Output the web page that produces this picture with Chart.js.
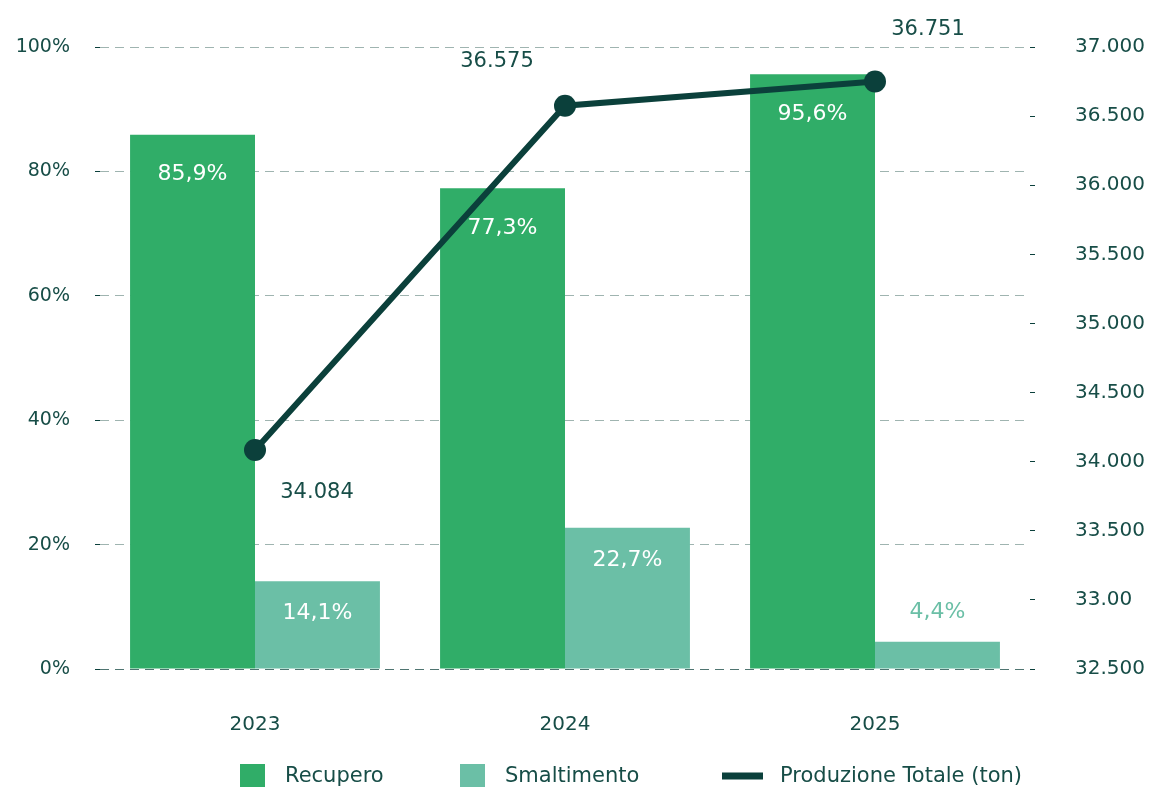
<!DOCTYPE html>
<html>
<head>
<meta charset="utf-8">
<script src="https://cdn.jsdelivr.net/npm/chart.js@4"></script>
<style>
html,body{margin:0;padding:0;background:#fff}
#wrap{width:1150px;height:787px;position:relative}
</style>
</head>
<body>
<div id="wrap"><canvas id="myChart"></canvas></div>
<script>
// DATA
const years = ['2023', '2024', '2025'];
const recupero = [85.9, 77.3, 95.6];
const smaltimento = [14.1, 22.7, 4.4];
const produzione = [34084, 36575, 36751];
const leftTicks = ['0%', '20%', '40%', '60%', '80%', '100%'];
const rightTicks = ['32.500', '33.00', '33.500', '34.000', '34.500', '35.000', '35.500', '36.000', '36.500', '37.000'];

// styles
const green = '#30ad68';
const teal = '#6bbfa6';
const darkTeal = '#0b403b';
const textCol = '#174d47';
const font = "'DejaVu Sans', sans-serif";
const lineLabelOffsets = [[62, 42], [-68, -44], [53, -52]];
const legendX = [240, 460, 722];

let fmtPct = (v) => v.toFixed(1).replace('.', ',') + '%';
let fmtNum = (v) => String(v).replace(/\B(?=(\d{3})+(?!\d))/g, '.');

Chart.defaults.font.family = font;
Chart.defaults.font.size = 20;
Chart.defaults.color = textCol;

// labels on bars and points
const valueLabels = {
    id: 'valueLabels',
    afterDatasetsDraw(chart) {
        const ctx = chart.ctx;
        ctx.save();
        ctx.font = '22px ' + font;
        ctx.textAlign = 'center';
        ctx.textBaseline = 'middle';
        chart.getDatasetMeta(0).data.forEach((bar, i) => {
            ctx.fillStyle = '#fff';
            ctx.fillText(fmtPct(recupero[i]), bar.x, bar.y + 40);
        });
        chart.getDatasetMeta(1).data.forEach((bar, i) => {
            if (smaltimento[i] < 10) {
                ctx.fillStyle = teal;
                ctx.fillText(fmtPct(smaltimento[i]), bar.x, bar.y - 29);
            } else {
                ctx.fillStyle = '#fff';
                ctx.fillText(fmtPct(smaltimento[i]), bar.x, bar.y + 32);
            }
        });
        ctx.font = '21px ' + font;
        chart.getDatasetMeta(2).data.forEach((pt, i) => {
            ctx.fillStyle = textCol;
            ctx.fillText(fmtNum(produzione[i]), pt.x + lineLabelOffsets[i][0], pt.y + lineLabelOffsets[i][1]);
        });
        ctx.restore();
    }
};

// legend at the bottom
const bottomLegend = {
    id: 'bottomLegend',
    afterDraw(chart) {
        const ctx = chart.ctx;
        const y = 776;
        ctx.save();
        ctx.font = '21px ' + font;
        ctx.textBaseline = 'middle';
        ctx.textAlign = 'left';
        chart.data.datasets.forEach((ds, i) => {
            const x = legendX[i];
            let textX;
            if (ds.type === 'line') {
                ctx.fillStyle = ds.borderColor;
                ctx.fillRect(x, y - 3.5, 41, 7);
                textX = x + 58;
            } else {
                ctx.fillStyle = ds.backgroundColor;
                ctx.fillRect(x, y - 12, 25, 24);
                textX = x + 45;
            }
            ctx.fillStyle = textCol;
            ctx.fillText(ds.label, textX, y + 1);
        });
        ctx.restore();
    }
};

// fixed axis sizes, no extra label padding
let fitY = (w) => (s) => {
    s.width = w;
    s.paddingTop = 0;
    s.paddingBottom = 0;
};

new Chart('myChart', {
    data: {
        labels: years,
        datasets: [
            {
                type: 'bar',
                label: 'Recupero',
                data: recupero,
                yAxisID: 'y',
                backgroundColor: green,
                categoryPercentage: 0.806,
                barPercentage: 1,
                order: 1
            },
            {
                type: 'bar',
                label: 'Smaltimento',
                data: smaltimento,
                yAxisID: 'y',
                backgroundColor: teal,
                categoryPercentage: 0.806,
                barPercentage: 1,
                order: 1
            },
            {
                type: 'line',
                label: 'Produzione Totale (ton)',
                data: produzione,
                yAxisID: 'y2',
                borderColor: darkTeal,
                borderWidth: 6,
                pointRadius: 11,
                pointHoverRadius: 11,
                pointBackgroundColor: darkTeal,
                pointBorderWidth: 0,
                tension: 0,
                order: 0
            }
        ]
    },
    options: {
        responsive: true,
        maintainAspectRatio: false,
        animation: false,
        layout: { padding: { top: 47, left: 0, right: 0, bottom: 0 } },
        plugins: {
            legend: { display: false },
            tooltip: { enabled: false }
        },
        scales: {
            x: {
                grid: { display: false },
                border: { display: false },
                ticks: { padding: 36 },
                afterFit: (s) => { s.height = 118; }
            },
            y: {
                position: 'left',
                min: 0,
                max: 100,
                ticks: {
                    stepSize: 20,
                    padding: 25,
                    font: { size: 19 },
                    callback: (v, i) => leftTicks[i]
                },
                grid: {
                    color: (c) => c.tick && c.tick.value === 0 ? '#4f7571' : '#9fb4b0',
                    lineWidth: 1,
                    tickLength: 5,
                    tickColor: darkTeal
                },
                border: { display: false, dash: [9, 6] },
                afterFit: fitY(100)
            },
            y2: {
                position: 'right',
                min: 32500,
                max: 37000,
                ticks: {
                    stepSize: 500,
                    padding: 40,
                    callback: (v, i) => rightTicks[i]
                },
                grid: {
                    drawOnChartArea: false,
                    tickLength: 5,
                    tickColor: darkTeal
                },
                border: { display: false },
                afterFit: fitY(120)
            }
        }
    },
    plugins: [valueLabels, bottomLegend]
});
</script>
</body>
</html>
